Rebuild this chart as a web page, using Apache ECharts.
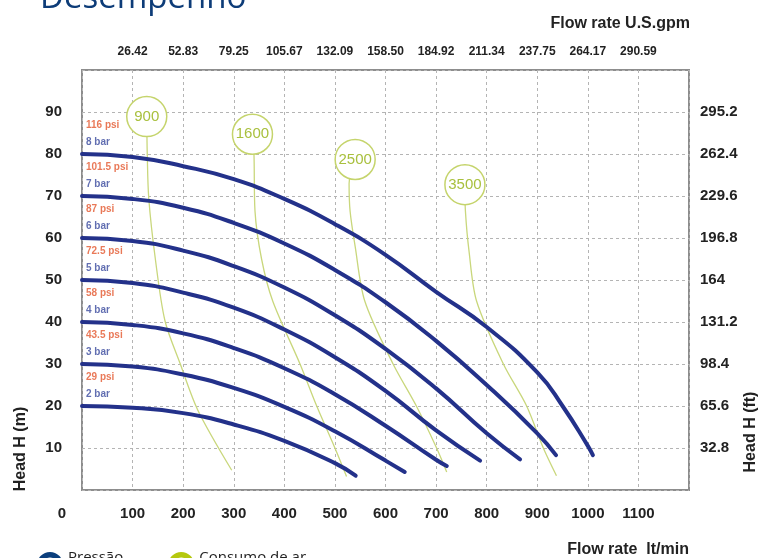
<!DOCTYPE html>
<html><head><meta charset="utf-8">
<script src="https://cdn.jsdelivr.net/npm/echarts@6/dist/echarts.min.js"></script>
<style>html,body{margin:0;padding:0;background:#fff}#c{width:760px;height:558px}</style>
</head><body><div id="c"></div>
<script>
// ---------- data ----------
const titleText = 'Desempenho';
const pressure2 = [[0,20],[100,19.6],[200,18.3],[300,15.6],[400,11.7],[500,6.4],[541,3.4]];
const pressure3 = [[0,30],[100,29.4],[200,27.5],[300,24.3],[400,19.8],[500,14],[600,7],[638,4.3]];
const pressure4 = [[0,40],[100,39.3],[200,37.3],[300,33.8],[400,29],[500,22.8],[600,15.3],[700,7.2],[721,5.7]];
const pressure5 = [[0,50],[100,49.3],[200,47],[300,43.4],[400,38.2],[500,31.6],[600,23.6],[700,14.2],[787,7]];
const pressure6 = [[0,60],[100,59.3],[200,57],[300,53.3],[400,48.2],[500,41.6],[600,33.6],[700,24.2],[800,13.5],[866,7.3]];
const pressure7 = [[0,70],[100,69.3],[200,67.2],[300,63.6],[400,58.7],[500,52.4],[600,44.7],[700,35.5],[800,25],[900,13.5],[937,8.3]];
const pressure8 = [[0,80],[100,79.3],[200,77.1],[300,74],[400,69.3],[500,63.3],[600,56],[700,47.2],[800,38.8],[900,28],[950,20],[1000,10.5],[1010,8.3]];
const psiLabels = ['29 psi','43.5 psi','58 psi','72.5 psi','87 psi','101.5 psi','116 psi'];
const barLabels = ['2 bar','3 bar','4 bar','5 bar','6 bar','7 bar','8 bar'];

const air900  = [[128,88.9],[129,80],[132,69.4],[145,55],[164,40.3],[194,30.1],[229,19],[296,4.7]];
const air1600 = [[337,84.7],[340,79.9],[342,66.4],[355,55],[377,45],[431,30],[464,20],[500,10],[523,3.2]];
const air2500 = [[540,78.7],[528,73],[530,66.4],[540,58],[559,45],[615,30],[661,20],[701,10],[721,4.3]];
const air3500 = [[757,72.7],[758,66.4],[765,57],[780,45],[833,30],[879,20],[912,10],[938,3.4]];
const airLabels = ['900','1600','2500','3500'];

const gpmLabels = ['26.42','52.83','79.25','105.67','132.09','158.50','184.92','211.34','237.75','264.17','290.59'];
const ftLabels = ['32.8','65.6','98.4','131.2','164','196.8','229.6','262.4','295.2'];
const seriesNames = ['Pressão','Consumo de ar'];
const axisNames = {bottom:'Flow rate  lt/min', top:'Flow rate U.S.gpm', left:'Head H (m)', right:'Head H (ft)'};

// ---------- chart ----------
const pressureCurves = [pressure2,pressure3,pressure4,pressure5,pressure6,pressure7,pressure8];
const airCurves = [air900,air1600,air2500,air3500];
const BLUE = '#23318a', GREEN = '#c9d77c', GREEN_DARK = '#a9c03e';
const ring = 'path://M12,0A12,12,0,1,1,12,24A12,12,0,1,1,12,0ZM12,5A7,7,0,1,0,12,19A7,7,0,1,0,12,5Z';
const gridLine = {show:true, lineStyle:{color:'#b4b4b4', width:1, type:[3,3]}};
const tickFont = {fontFamily:'Arial', fontWeight:'bold', color:'#222'};
const nameFont = {fontFamily:'Arial', fontWeight:'bold', fontSize:16, fill:'#222'};

const series = [];
pressureCurves.forEach(c => series.push({
  type:'line', name:seriesNames[0], data:c, smooth:true, symbol:'none',
  lineStyle:{color:BLUE, width:4, cap:'round'}, itemStyle:{color:'#0b3f7d'}, z:3
}));
airCurves.forEach((c,i) => series.push({
  type:'line', name:seriesNames[1], data:c, smooth:0.3, symbol:'none',
  lineStyle:{color:GREEN, width:1.3}, itemStyle:{color:'#b5c80f'}, z:2,
  markPoint:{
    silent:true, symbol:'circle', symbolSize:40,
    itemStyle:{color:'#fff', borderColor:'#c5d46c', borderWidth:1.5},
    label:{show:true, position:'inside', formatter:airLabels[i], color:GREEN_DARK, fontSize:15, fontFamily:'Arial'},
    data:[{coord:c[0]}]
  }
}));
series.push({
  type:'scatter', name:'labels', symbolSize:0, silent:true, z:4,
  itemStyle:{color:'transparent'},
  data: pressureCurves.map(c => c[0]),
  label:{show:true, position:[4,-37], align:'left', verticalAlign:'top',
    formatter: p => '{r|' + psiLabels[p.dataIndex] + '}\n{b|' + barLabels[p.dataIndex] + '}',
    rich:{
      r:{color:'#e4572e', fontSize:10, fontWeight:'bold', fontFamily:'Arial', lineHeight:16.5},
      b:{color:'#3a4a9e', fontSize:10, fontWeight:'bold', fontFamily:'Arial', lineHeight:16.5}
    }}
});

const option = {
  animation:false,
  backgroundColor:'#fff',
  grid:{left:82, right:71, top:70, bottom:67, show:true, borderColor:'#8d8d8d', borderWidth:2, backgroundColor:'#fff'},
  legend:{
    left:32, top:545, itemWidth:26, itemHeight:26, itemGap:45, selectedMode:false,
    data:[
      {name:seriesNames[0], icon:ring, itemStyle:{color:'#0b3f7d', borderWidth:0}},
      {name:seriesNames[1], icon:ring, itemStyle:{color:'#b5c80f', borderWidth:0}}
    ],
    formatter: name => '{t|' + name + '}{s|}',
    textStyle:{fontFamily:'"Open Sans"', fontSize:15, color:'#222',
      rich:{
        t:{fontFamily:'"Open Sans"', fontSize:15, color:'#222', lineHeight:15, verticalAlign:'top'},
        s:{width:0, height:30, lineHeight:30}
      }}
  },
  xAxis:[
    {type:'value', position:'bottom', min:0, max:1200, interval:100,
     axisLine:{show:false}, axisTick:{show:false}, splitLine:gridLine,
     axisLabel:Object.assign({margin:16, fontSize:15,
       formatter: v => v === 0 ? '{z|0}' : (v >= 1200 ? '' : String(v)),
       rich:{z:{padding:[0,40,0,0], fontSize:15, fontWeight:'bold', fontFamily:'Arial', color:'#222'}}}, tickFont),
     name:axisNames.bottom, nameLocation:'end', nameGap:0,
     nameTextStyle:{align:'right', verticalAlign:'top', padding:[52,0,0,0], fontSize:16, fontWeight:'bold', fontFamily:'Arial', color:'#222'}},
    {type:'value', position:'top', min:0, max:1200, interval:100,
     axisLine:{show:false}, axisTick:{show:false}, splitLine:{show:false},
     axisLabel:Object.assign({margin:12, fontSize:12,
       formatter: v => { const k = Math.round(v/100) - 1; return (k >= 0 && k < gpmLabels.length) ? gpmLabels[k] : ''; }}, tickFont)}
  ],
  yAxis:[
    {type:'value', position:'left', min:0, max:100, interval:10,
     axisLine:{show:false}, axisTick:{show:false}, splitLine:gridLine,
     axisLabel:Object.assign({margin:20, fontSize:15,
       formatter: v => (v > 0 && v < 100) ? String(v) : ''}, tickFont)},
    {type:'value', position:'right', min:0, max:100, interval:10,
     axisLine:{show:false}, axisTick:{show:false}, splitLine:{show:false},
     axisLabel:Object.assign({margin:11, fontSize:15,
       formatter: v => { const k = Math.round(v/10) - 1; return (k >= 0 && k < ftLabels.length) ? ftLabels[k] : ''; }}, tickFont)}
  ],
  graphic:[
    {type:'text', left:40, top:-18, silent:true,
     style:{text:titleText, fontFamily:'"Open Sans"', fontSize:33, fill:'#0d3c78'}},
    {type:'text', right:70, top:16, silent:true,
     style:Object.assign({text:axisNames.top}, nameFont)},
    {type:'text', x:21, y:449, rotation:Math.PI/2, silent:true,
     style:Object.assign({text:axisNames.left, align:'center', verticalAlign:'middle'}, nameFont)},
    {type:'text', x:751, y:432, rotation:Math.PI/2, silent:true,
     style:Object.assign({text:axisNames.right, align:'center', verticalAlign:'middle'}, nameFont)}
  ],
  series:series
};
const chart = echarts.init(document.getElementById('c'), null, {renderer:'canvas'});
chart.setOption(option);
</script>
</body></html>
